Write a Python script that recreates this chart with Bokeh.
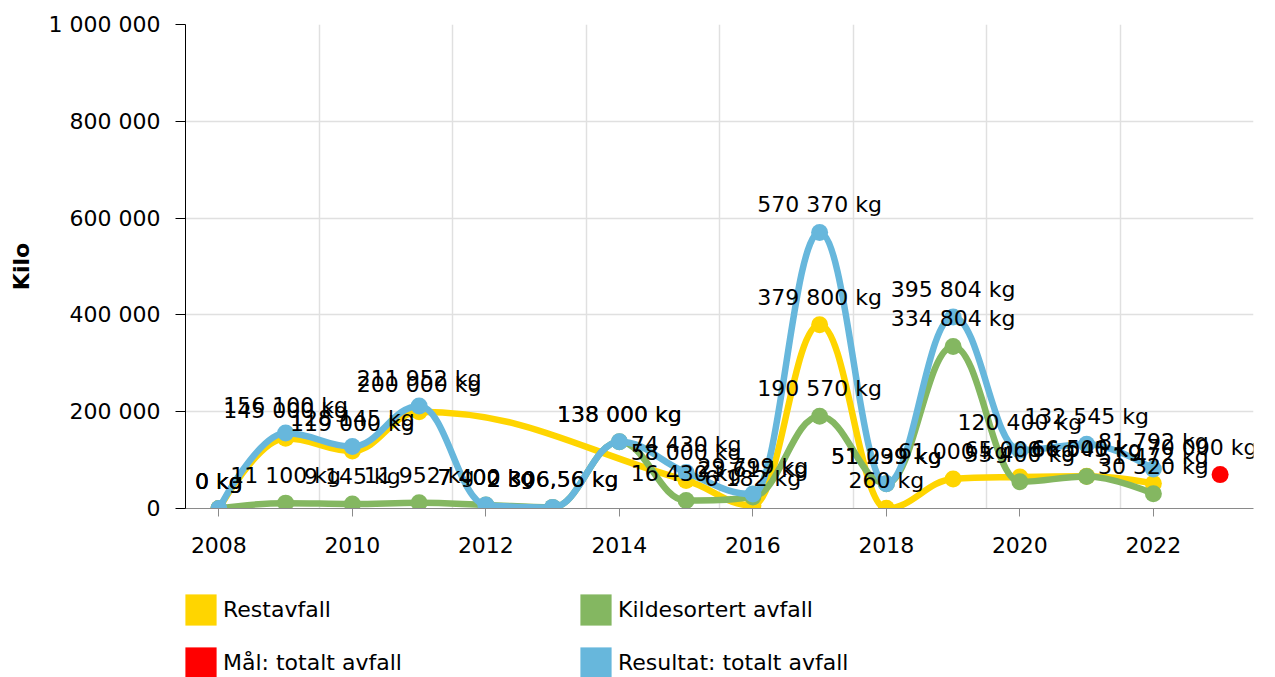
from bokeh.plotting import figure
from bokeh.layouts import column
from bokeh.models import (ColumnDataSource, LabelSet, FixedTicker, Legend, LegendItem,
                          Range1d)
from bokeh.core.properties import value
from bokeh.embed import file_html
from bokeh.resources import INLINE

# ---------------- data ----------------
years = [2008, 2009, 2010, 2011, 2012, 2013, 2014, 2015, 2016, 2017, 2018, 2019, 2020, 2021, 2022]
rest_years = [2008, 2009, 2010, 2011, 2015, 2016, 2017, 2018, 2019, 2020, 2021, 2022]
restavfall = [0, 145000, 119000, 200000, 58000, 6182, 379800, 260, 61000, 65000, 66500, 51472]
kildesortert = [0, 11100, 9145, 11952, 7400, 2306.56, 138000, 16430, 23617, 190570, 51039,
                334804, 55400, 66045, 30320]
resultat = [0, 156100, 128145, 211952, 7400, 2306.56, 138000, 74430, 29799, 570370, 51299,
            395804, 120400, 132545, 81792]
maal_years = [2023]
maal = [70000]
x_ticks = [2008, 2010, 2012, 2014, 2016, 2018, 2020, 2022]
y_ticks = [0, 200000, 400000, 600000, 800000, 1000000]

names = ["Restavfall", "Kildesortert avfall", "Mål: totalt avfall", "Resultat: totalt avfall"]
colors = ["#FFD500", "#84B761", "#FF0000", "#67B7DC"]

FONT = "DejaVu Sans"
FS = "22px"


def fmt_num(v):
    if abs(v - round(v)) < 1e-9:
        return f"{int(round(v)):,}".replace(",", " ")
    return f"{v:,.2f}".replace(",", " ").replace(".", ",")


def fmt_kg(v):
    return fmt_num(v) + " kg"


def spline_segments(xs, ys, smoothing=1.5):
    n = len(xs)
    lc = [(x, y) for x, y in zip(xs, ys)]
    rc = [(x, y) for x, y in zip(xs, ys)]
    d = smoothing + 1
    for i in range(1, n - 1):
        x, y = xs[i], ys[i]
        lx, ly = xs[i - 1], ys[i - 1]
        nx, ny = xs[i + 1], ys[i + 1]
        lcx = (smoothing * x + lx) / d
        lcy = (smoothing * y + ly) / d
        rcx = (smoothing * x + nx) / d
        rcy = (smoothing * y + ny) / d
        if rcx != lcx:
            corr = ((rcy - lcy) * (rcx - x)) / (rcx - lcx) + y - rcy
            lcy += corr
            rcy += corr
        if lcy > ly and lcy > y:
            lcy = max(ly, y)
            rcy = 2 * y - lcy
        elif lcy < ly and lcy < y:
            lcy = min(ly, y)
            rcy = 2 * y - lcy
        if rcy > ny and rcy > y:
            rcy = max(ny, y)
            lcy = 2 * y - rcy
        elif rcy < ny and rcy < y:
            rcy = min(ny, y)
            lcy = 2 * y - rcy
        lc[i] = (lcx, lcy)
        rc[i] = (rcx, rcy)
    seg = dict(x0=[], y0=[], x1=[], y1=[], cx0=[], cy0=[], cx1=[], cy1=[])
    for i in range(1, n):
        seg["x0"].append(xs[i - 1]); seg["y0"].append(ys[i - 1])
        seg["x1"].append(xs[i]); seg["y1"].append(ys[i])
        seg["cx0"].append(rc[i - 1][0]); seg["cy0"].append(rc[i - 1][1])
        seg["cx1"].append(lc[i][0]); seg["cy1"].append(lc[i][1])
    return seg


W = 1275
MAIN_H = 570
LEG_H = 107

p = figure(width=W, height=MAIN_H, output_backend="svg", toolbar_location=None,
           x_range=Range1d(2007.5, 2023.5), y_range=Range1d(0, 1000000),
           min_border_left=185, min_border_right=22, min_border_top=24,
           min_border_bottom=MAIN_H - 508)
p.outline_line_color = None
p.background_fill_color = "white"

draw_order = [(rest_years, restavfall, colors[0]), (years, kildesortert, colors[1]),
              (maal_years, maal, colors[2]), (years, resultat, colors[3])]
for xs, ys, c in draw_order:
    if len(xs) > 1:
        seg = spline_segments(xs, ys)
        p.bezier(x0="x0", y0="y0", x1="x1", y1="y1", cx0="cx0", cy0="cy0", cx1="cx1", cy1="cy1",
                 source=ColumnDataSource(seg), line_color=c, line_width=6.5, line_cap="round")
    p.scatter(xs, ys, size=17, fill_color=c, line_color=None)

# data labels (labels past the last year are nudged left so they stay visible)
last_year = years[-1]
lab_x, lab_y, lab_t, lab_dx = [], [], [], []
for xs, ys, c in draw_order:
    for x, y in zip(xs, ys):
        lab_x.append(x); lab_y.append(y); lab_t.append(fmt_kg(y))
        lab_dx.append(-18 if x > last_year else 0)
labels = LabelSet(x="x", y="y", text="t", x_offset="dx",
                  source=ColumnDataSource(dict(x=lab_x, y=lab_y, t=lab_t, dx=lab_dx)),
                  text_align="center", text_baseline="alphabetic", y_offset=20,
                  text_font=value(FONT), text_font_size=value(FS), text_color="#000000")
p.add_layout(labels)

# axes
p.xaxis.ticker = FixedTicker(ticks=x_ticks)
p.yaxis.ticker = FixedTicker(ticks=y_ticks)
p.yaxis.major_label_overrides = {t: fmt_num(t) for t in y_ticks}
p.xaxis.major_label_overrides = {t: str(t) for t in x_ticks}
for ax in (p.xaxis, p.yaxis):
    ax.major_label_text_font = FONT
    ax.major_label_text_font_size = FS
    ax.major_label_text_color = "#000000"
    ax.minor_tick_line_color = None
    ax.major_tick_in = 0
p.xaxis.axis_line_color = "#8a8a8a"
p.xaxis.major_tick_line_color = "#8a8a8a"
p.xaxis.major_tick_out = 8
p.xaxis.major_label_standoff = 20
p.yaxis.axis_line_color = "#000000"
p.yaxis.major_tick_line_color = "#000000"
p.yaxis.major_tick_out = 10
p.yaxis.major_label_standoff = 15
p.yaxis.axis_label = "Kilo"
p.yaxis.axis_label_text_font = FONT
p.yaxis.axis_label_text_font_size = FS
p.yaxis.axis_label_text_font_style = "bold"
p.yaxis.axis_label_text_color = "#000000"
p.yaxis.axis_label_standoff = 12

# grid
grid_x = [y + 0.5 for y in years[1::2]] + [years[-1] + 1.5]
p.xgrid.ticker = FixedTicker(ticks=grid_x)
p.ygrid.ticker = FixedTicker(ticks=y_ticks)
for g in (p.xgrid, p.ygrid):
    g.grid_line_color = "#e0e0e0"
    g.grid_line_width = 1.5

# legend in its own strip below the chart
pl = figure(width=W, height=LEG_H, output_backend="svg", toolbar_location=None,
            x_range=Range1d(0, 1), y_range=Range1d(0, 1), x_axis_type=None, y_axis_type=None,
            min_border=0, min_border_left=0, min_border_right=0, min_border_top=0,
            min_border_bottom=0)
pl.outline_line_color = None
pl.xgrid.visible = False
pl.ygrid.visible = False
dummies = []
for c in colors:
    r = pl.quad(left=[0], right=[0], top=[0], bottom=[0], fill_color=c, line_color=None)
    dummies.append(r)
items = [LegendItem(label=n, renderers=[r]) for n, r in zip(names, dummies)]
legend = Legend(items=items, ncols=2, orientation="horizontal", location=(-4, LEG_H - 112),
                glyph_width=39, glyph_height=39, label_standoff=3, spacing=14,
                label_width=339, padding=0, margin=0, border_line_color=None,
                background_fill_alpha=0, label_text_font=FONT, label_text_font_size=FS,
                label_text_color="#000000")
pl.add_layout(legend)

layout = column(p, pl, spacing=0)
open("out.html", "w").write(file_html(layout, INLINE))
